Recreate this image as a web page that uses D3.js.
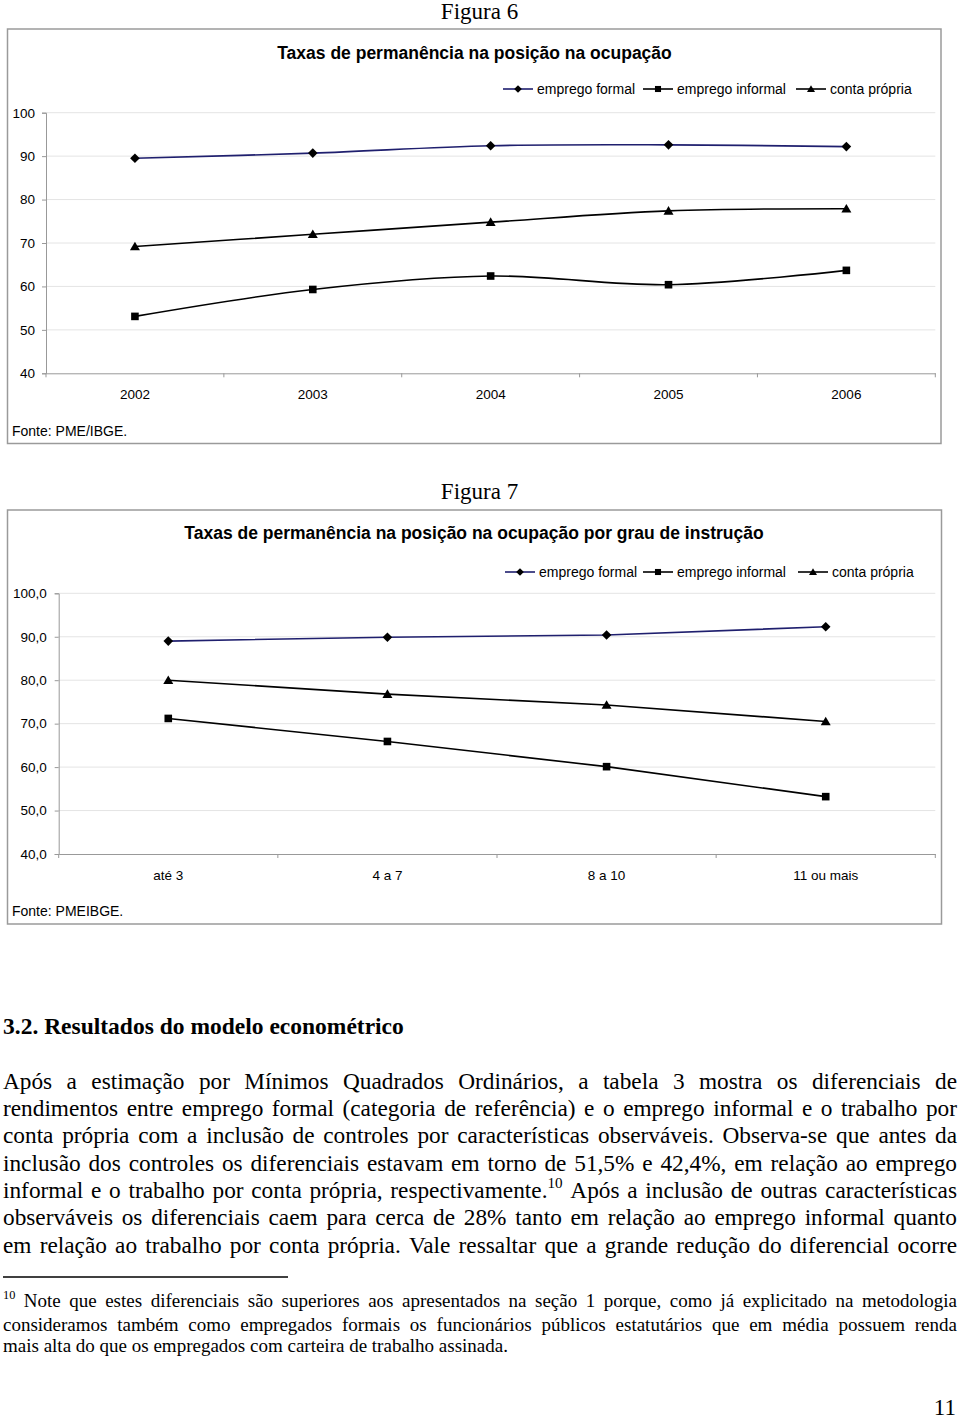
<!DOCTYPE html>
<html><head><meta charset="utf-8">
<script src="https://cdn.jsdelivr.net/npm/d3@7"></script>
<style>
html,body{margin:0;padding:0;background:#fff;}
svg{display:block;}
</style></head>
<body>
<svg id="page" width="960" height="1425"></svg>
<script>
// ---------- DATA ----------
const years = ["2002","2003","2004","2005","2006"];
const formal6   = [89.5, 90.7, 92.4, 92.6, 92.2];
const informal6 = [53.1, 59.3, 62.4, 60.4, 63.7];
const conta6    = [69.2, 72.0, 74.8, 77.4, 77.9];
const yTicks6 = [40, 50, 60, 70, 80, 90, 100];

const levels = ["até 3","4 a 7","8 a 10","11 ou mais"];
const formal7   = [89.0, 89.9, 90.4, 92.3];
const informal7 = [71.2, 65.9, 60.1, 53.2];
const conta7    = [80.0, 76.8, 74.3, 70.5];
const yTicks7 = [40, 50, 60, 70, 80, 90, 100];

const seriesNames = ["emprego formal","emprego informal","conta própria"];

const bodyLines = [
  "Após a estimação por Mínimos Quadrados Ordinários, a tabela 3 mostra os diferenciais de",
  "rendimentos entre emprego formal (categoria de referência) e o emprego informal e o trabalho por",
  "conta própria com a inclusão de controles por características observáveis. Observa-se que antes da",
  "inclusão dos controles os diferenciais estavam em torno de 51,5% e 42,4%, em relação ao emprego",
  "informal e o trabalho por conta própria, respectivamente.^10 Após a inclusão de outras características",
  "observáveis os diferenciais caem para cerca de 28% tanto em relação ao emprego informal quanto",
  "em relação ao trabalho por conta própria. Vale ressaltar que a grande redução do diferencial ocorre"
];
const footLines = [
  "^10 Note que estes diferenciais são superiores aos apresentados na seção 1 porque, como já explicitado na metodologia",
  "consideramos também como empregados formais os funcionários públicos estatutários que em média possuem renda",
  "mais alta do que os empregados com carteira de trabalho assinada."
];

// ---------- STYLE ----------
const SANS = "'Liberation Sans', Arial, Helvetica, sans-serif";
const SERIF = "'Liberation Serif', 'Times New Roman', serif";
const NAVY = "#1f1f6e";
const svg = d3.select("#page");

function markerPath(type){
  if(type==="diamond") return "M0,-4.8L4.8,0L0,4.8L-4.8,0Z";
  if(type==="square") return "M-3.8,-3.8H3.8V3.8H-3.8Z";
  return "M0,-4.8L5,3.8H-5Z";
}
const markerTypes = ["diamond","square","triangle"];
const lineColors = [NAVY, "#000", "#000"];

function drawChart(cfg){
  const g = svg.append("g");
  g.append("rect").attr("x",cfg.box[0]).attr("y",cfg.box[1])
   .attr("width",cfg.box[2]-cfg.box[0]).attr("height",cfg.box[3]-cfg.box[1])
   .attr("fill","#fff").attr("stroke","#9a9a9a").attr("stroke-width",1.5);
  svg.append("text").attr("x",cfg.figX).attr("y",cfg.figY).attr("text-anchor","middle")
   .attr("font-family",SERIF).attr("font-size",23).text(cfg.figLabel);
  g.append("text").attr("x",cfg.titleX).attr("y",cfg.titleY).attr("text-anchor","middle")
   .attr("font-family",SANS).attr("font-weight","bold").attr("font-size",17.5).text(cfg.title);

  const x = d3.scaleBand().domain(cfg.cats).range([cfg.left, cfg.right]);
  const y = d3.scaleLinear().domain([40,100]).range([cfg.bottom, cfg.top]);
  const cx = d => x(d) + x.bandwidth()/2;

  g.append("g").selectAll("line").data(cfg.yTicks.filter(v=>v>40)).join("line")
   .attr("x1",cfg.left).attr("x2",cfg.right).attr("y1",d=>y(d)).attr("y2",d=>y(d))
   .attr("stroke","#e4e4e4").attr("stroke-width",1);

  const ya = g.append("g").attr("transform",`translate(${cfg.left},0)`)
   .call(d3.axisLeft(y).tickValues(cfg.yTicks).tickSize(4).tickPadding(cfg.yPad).tickFormat(cfg.yFmt));
  ya.selectAll("path,line").attr("stroke","#999");
  ya.selectAll("text").attr("font-family",SANS).attr("font-size",13.5).attr("fill","#000");

  const xa = g.append("g").attr("transform",`translate(0,${cfg.bottom})`)
   .call(d3.axisBottom(x).tickSize(0).tickPadding(cfg.xPad));
  xa.select("path").attr("stroke","#999");
  xa.selectAll("text").attr("font-family",SANS).attr("font-size",13.5).attr("fill","#000");
  const bounds = cfg.cats.map(d=>x(d)).concat([x(cfg.cats[cfg.cats.length-1])+x.bandwidth()]);
  g.append("g").selectAll("line").data(bounds).join("line")
   .attr("x1",d=>d).attr("x2",d=>d).attr("y1",cfg.bottom).attr("y2",cfg.bottom+4)
   .attr("stroke","#999");

  const curve = cfg.smooth ? d3.curveCatmullRom.alpha(0) : d3.curveLinear;
  cfg.series.forEach((vals,i)=>{
    const line = d3.line().x((v,j)=>cx(cfg.cats[j])).y(v=>y(v)).curve(curve);
    g.append("path").attr("d",line(vals)).attr("fill","none")
     .attr("stroke",lineColors[i]).attr("stroke-width",1.6);
    g.append("g").selectAll("path").data(vals).join("path")
     .attr("transform",(v,j)=>`translate(${cx(cfg.cats[j])},${y(v)})`)
     .attr("d",markerPath(markerTypes[i])).attr("fill","#000");
  });

  cfg.legend.forEach((lg,i)=>{
    const lgG = g.append("g");
    lgG.append("line").attr("x1",lg[0]).attr("x2",lg[0]+30).attr("y1",cfg.legendY).attr("y2",cfg.legendY)
      .attr("stroke",lineColors[i]).attr("stroke-width",1.6);
    lgG.append("path").attr("d",markerPath(markerTypes[i])).attr("fill","#000")
      .attr("transform",`translate(${lg[0]+15},${cfg.legendY}) scale(0.8)`);
    lgG.append("text").attr("x",lg[0]+34).attr("y",cfg.legendY+5)
      .attr("font-family",SANS).attr("font-size",14).text(seriesNames[i]);
  });

  g.append("text").attr("x",12).attr("y",cfg.srcY).attr("font-family",SANS).attr("font-size",14)
   .text(cfg.source);
}

drawChart({
  box:[7.5,29,941,443.5], figLabel:"Figura 6", figX:479.5, figY:19,
  title:"Taxas de permanência na posição na ocupação", titleX:474.5, titleY:59,
  cats:years, left:46, right:935.3, top:112.7, bottom:373.3,
  yTicks:yTicks6, yFmt:d3.format("d"), yPad:7, xPad:16,
  series:[formal6, informal6, conta6], smooth:true,
  legend:[[503],[643],[796]], legendY:89,
  srcY:436, source:"Fonte: PME/IBGE."
});

drawChart({
  box:[7.5,510,941.5,924], figLabel:"Figura 7", figX:479.5, figY:499,
  title:"Taxas de permanência na posição na ocupação por grau de instrução", titleX:474, titleY:539,
  cats:levels, left:58.7, right:935.3, top:593.3, bottom:854,
  yTicks:yTicks7, yFmt:d=>d3.format(".1f")(d).replace(".",","), yPad:8, xPad:16,
  series:[formal7, informal7, conta7], smooth:false,
  legend:[[505],[643],[798]], legendY:572,
  srcY:915.5, source:"Fonte: PMEIBGE."
});

// ---------- BODY TEXT ----------
function setLine(yb, str, size, x0, x1, justify, bold){
  const tokens = str.split(" ");
  const els = tokens.map(tok=>{
    const t = svg.append("text").attr("y",yb).attr("font-family",SERIF).attr("font-size",size)
      .attr("font-weight",bold?"bold":"normal");
    const parts = tok.split("^");
    if(parts[0]) t.append("tspan").text(parts[0]);
    if(parts.length>1){
      t.append("tspan").attr("font-size",size*0.65).attr("dy",-size*0.42).text(parts[1]);
    }
    return t;
  });
  const widths = els.map(e=>e.node().getComputedTextLength());
  const total = d3.sum(widths);
  const gap = justify && els.length>1 ? (x1-x0-total)/(els.length-1) : size*0.25;
  let cx = x0;
  els.forEach((e,i)=>{ e.attr("x",cx); cx += widths[i]+gap; });
}

setLine(1034, "3.2. Resultados do modelo econométrico", 23.5, 3, 957, false, true);
const bodyBase = [1089, 1116, 1143, 1171, 1198, 1225, 1253];
bodyLines.forEach((l,i)=>setLine(bodyBase[i], l, 23.3, 3, 957, true, false));

svg.append("line").attr("x1",3).attr("x2",288).attr("y1",1277).attr("y2",1277)
  .attr("stroke","#000").attr("stroke-width",1.3);
const footBase = [1307, 1331, 1352];
footLines.forEach((l,i)=>setLine(footBase[i], l, 19, 3, 957, i<2, false));

svg.append("text").attr("x",956).attr("y",1415).attr("text-anchor","end")
  .attr("font-family",SERIF).attr("font-size",23).text("11");
</script>
</body></html>
